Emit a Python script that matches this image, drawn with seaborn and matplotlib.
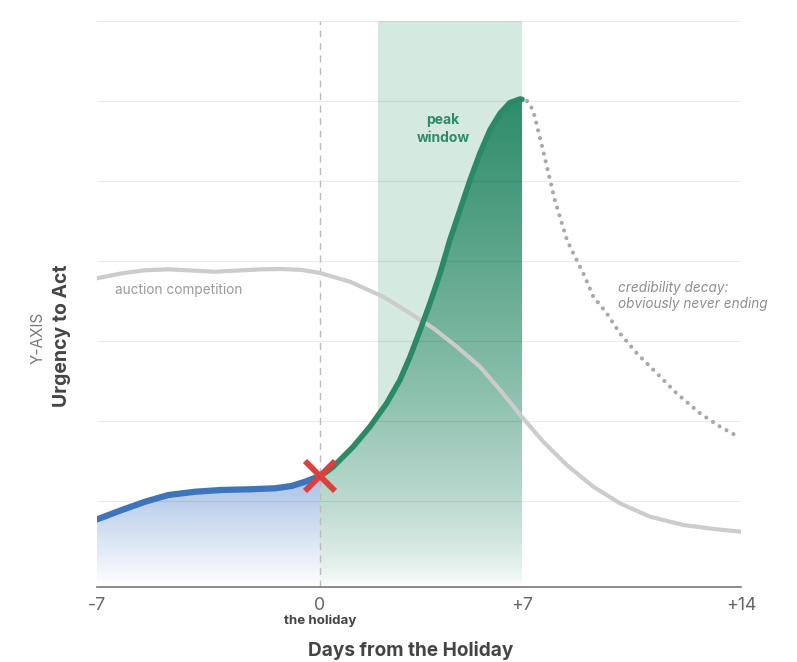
import numpy as np
import matplotlib
matplotlib.use("Agg")
import matplotlib.pyplot as plt
import seaborn as sns
from matplotlib.colors import LinearSegmentedColormap

# ── Data (days from holiday, urgency) ──
blue_days = [-7, -6.22, -5.49, -4.76, -3.92, -3.09, -2.25, -1.41, -0.89, -0.47, -0.05, 0]
blue_urgency = [7.7, 8.88, 9.91, 10.75, 11.16, 11.38, 11.46, 11.59, 11.88, 12.41, 13.04, 13.1]

green_days = [0, 0.21, 0.46, 1.15, 1.73, 2.31, 2.77, 3.12, 3.47, 3.81, 4.16, 4.50,
              4.85, 5.20, 5.54, 5.89, 6.24, 6.58, 6.93, 7.0]
green_urgency = [13.1, 13.6, 14.29, 16.79, 19.29, 22.21, 25.13, 28.04, 31.38, 34.71, 38.46, 42.63,
                 46.38, 50.13, 53.46, 56.38, 58.46, 59.79, 60.25, 60.21]

auction_days = [-7, -6.22, -5.49, -4.76, -3.92, -3.30, -2.67, -1.83, -1.20, -0.57, 0, 1.04,
                2.19, 3.12, 3.93, 4.74, 5.54, 6.24, 6.99, 7.68, 8.43, 9.28, 10.13, 11.09,
                12.16, 13.22, 14]
auction_urgency = [37.84, 38.46, 38.84, 38.96, 38.79, 38.66, 38.79, 38.96, 39.0, 38.88, 38.5, 37.41,
                   35.54, 33.46, 31.59, 29.29, 26.79, 23.88, 20.54, 17.41, 14.5, 11.79, 9.71, 8.04,
                   7.0, 6.46, 6.16]

decay_days = [7.16, 7.35, 7.67, 8.05, 8.44, 8.64, 8.96, 9.28, 9.71, 10.13, 10.67, 11.31,
              11.94, 12.69, 13.33, 13.91]
decay_urgency = [60.0, 58.9, 53.9, 47.6, 42.6, 40.96, 38.46, 35.54, 33.46, 30.96, 28.46, 25.96,
                 23.46, 20.96, 19.29, 18.04]

peak_window = (2, 7)
tick_days = [-7, 0, 7, 14]
tick_labels = ['-7', '0', '+7', '+14']
grid_levels = [10, 20, 30, 40, 50, 60, 70]

# ── Style ──
sns.set_style("white")
plt.rcParams['font.family'] = ['Inter', 'DejaVu Sans']

GREEN = '#2a8a65'
BLUE = '#3d74ba'
BAND = '#d4e9e0'
GRAY_LINE = '#cccccc'
DOT = '#a9a9a9'
RED = '#d9403f'

fig = plt.figure(figsize=(7.97, 6.62), dpi=100)
ax = fig.add_axes([97 / 797, 75 / 662, 644 / 797, 566 / 662])

# tick spacing in the original is not quite uniform
px_knots = [0, 223, 425, 644]
ax.set_xscale('function', functions=(lambda d: np.interp(d, tick_days, px_knots),
                                     lambda p: np.interp(p, px_knots, tick_days)))

Y0, Y1 = -0.75, 70


def gradient_fill(x, y, color, strength, gamma, zorder):
    poly = ax.fill_between(x, y, Y0, color='none', lw=0)
    top = max(y)
    cmap = LinearSegmentedColormap.from_list('grad', ['white', color])
    frac = np.linspace(0, 1, 256).reshape(-1, 1) ** gamma * strength
    img = ax.imshow(frac, extent=[x[0], x[-1], Y0, top], origin='lower', aspect='auto',
                    cmap=cmap, vmin=0, vmax=1, zorder=zorder, interpolation='bilinear')
    img.set_clip_path(poly.get_paths()[0], transform=ax.transData)


ax.axvspan(*peak_window, color=BAND, lw=0, zorder=0.5)
gradient_fill(green_days, green_urgency, '#2f8d6b', 1.0, 0.65, 1)
gradient_fill(blue_days, blue_urgency, '#4a7fc8', 0.48, 1.0, 1)

# grid above the fills, very faint
for g in grid_levels:
    ax.axhline(g, color='#000000', alpha=0.075, lw=0.9, zorder=2)
ax.axvline(0, color='#bbbbbb', lw=1, ls=(0, (5, 4)), zorder=2.2)

sns.lineplot(x=auction_days, y=auction_urgency, ax=ax, color=GRAY_LINE, lw=3,
             solid_capstyle='round', solid_joinstyle='round', zorder=3)
dots = sns.lineplot(x=decay_days, y=decay_urgency, ax=ax, color=DOT, lw=3,
                    zorder=3).lines[-1]
dots.set_linestyle((0, (0.01, 1.9)))
dots.set_dash_capstyle('round')
sns.lineplot(x=blue_days, y=blue_urgency, ax=ax, color=BLUE, lw=4.5,
             solid_capstyle='round', solid_joinstyle='round', zorder=4)
sns.lineplot(x=green_days, y=green_urgency, ax=ax, color=GREEN, lw=4,
             solid_capstyle='round', solid_joinstyle='round', zorder=4)
ax.plot([0], [blue_urgency[-1]], marker='x', ms=21, mew=4.2, color=RED, zorder=5)

# ── Annotations ──
ax.text(4.26, 56.5, 'peak\nwindow', color='#2e8b66', fontsize=10, fontweight='bold',
        ha='center', va='center', linespacing=1.3, zorder=6)
ax.text(-6.43, 36.4, 'auction competition', color='#9a9a9a', fontsize=9.8,
        ha='left', va='center', zorder=6)
ax.text(10.07, 35.6, 'credibility decay:\nobviously never ending', color='#8f8f8f',
        fontsize=9.8, style='italic', ha='left', va='center', linespacing=1.15, zorder=6)
ax.text(0, -0.06, 'the holiday', transform=ax.get_xaxis_transform(), color='#444444',
        fontsize=9.6, fontweight='bold', ha='center', va='center')

# ── Axes ──
ax.set_xlim(-7, 14)
ax.set_ylim(Y0, Y1)
ax.set_xticks(tick_days, tick_labels)
ax.set_yticks([])
ax.tick_params(axis='x', direction='in', length=7, width=1.1, color='#777777',
               labelcolor='#666666', labelsize=12.8, pad=7)
ax.spines[['top', 'right', 'left']].set_visible(False)
ax.spines['bottom'].set_color('#777777')
ax.spines['bottom'].set_linewidth(1.2)
ax.set_xlabel('')
ax.set_ylabel('')

fig.text(411 / 797, 1 - 651 / 662, 'Days from the Holiday', fontsize=13.7,
         fontweight='bold', color='#444444', ha='center', va='center')
fig.text(38 / 797, 1 - 338 / 662, 'Y-AXIS', fontsize=11, color='#777777',
         rotation=90, ha='center', va='center')
fig.text(62 / 797, 1 - 336 / 662, 'Urgency to Act', fontsize=14, fontweight='bold',
         color='#444444', rotation=90, ha='center', va='center')

fig.savefig('out.png', dpi=100)
